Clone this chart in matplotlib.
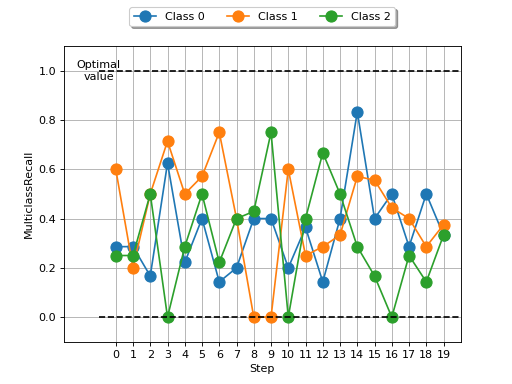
import matplotlib
matplotlib.use("Agg")
import matplotlib.pyplot as plt
import numpy as np

steps = list(range(20))
class0 = [0.286, 0.286, 0.167, 0.625, 0.222, 0.4, 0.143, 0.2, 0.4, 0.4,
          0.2, 0.364, 0.143, 0.4, 0.833, 0.4, 0.5, 0.286, 0.5, 0.333]
class1 = [0.6, 0.2, 0.5, 0.714, 0.5, 0.571, 0.75, 0.4, 0.0, 0.0,
          0.6, 0.25, 0.286, 0.333, 0.571, 0.556, 0.444, 0.4, 0.286, 0.375]
class2 = [0.25, 0.25, 0.5, 0.0, 0.286, 0.5, 0.222, 0.4, 0.429, 0.75,
          0.0, 0.4, 0.667, 0.5, 0.286, 0.167, 0.0, 0.25, 0.143, 0.333]
labels = ["Class 0", "Class 1", "Class 2"]
optimal = 1.0
baseline = 0.0

fig, ax = plt.subplots(figsize=(6.4, 4.8), dpi=80)
for vals, lab in zip([class0, class1, class2], labels):
    ax.plot(steps, vals, marker="o", markersize=10, label=lab)
ax.hlines([optimal, baseline], -1, 20, colors="k", linestyles="--")
ax.text(-1.0, optimal, "Optimal\nvalue", ha="center", va="center")
ax.set_xlim(-3, 20)
ax.set_ylim(-0.1, 1.1)
ax.set_xticks(steps)
ax.grid(True)
ax.set_xlabel("Step")
ax.set_ylabel("MulticlassRecall")
ax.legend(loc="upper center", bbox_to_anchor=(0.5, 1.15), ncol=3, shadow=True)
fig.savefig("out.png")
